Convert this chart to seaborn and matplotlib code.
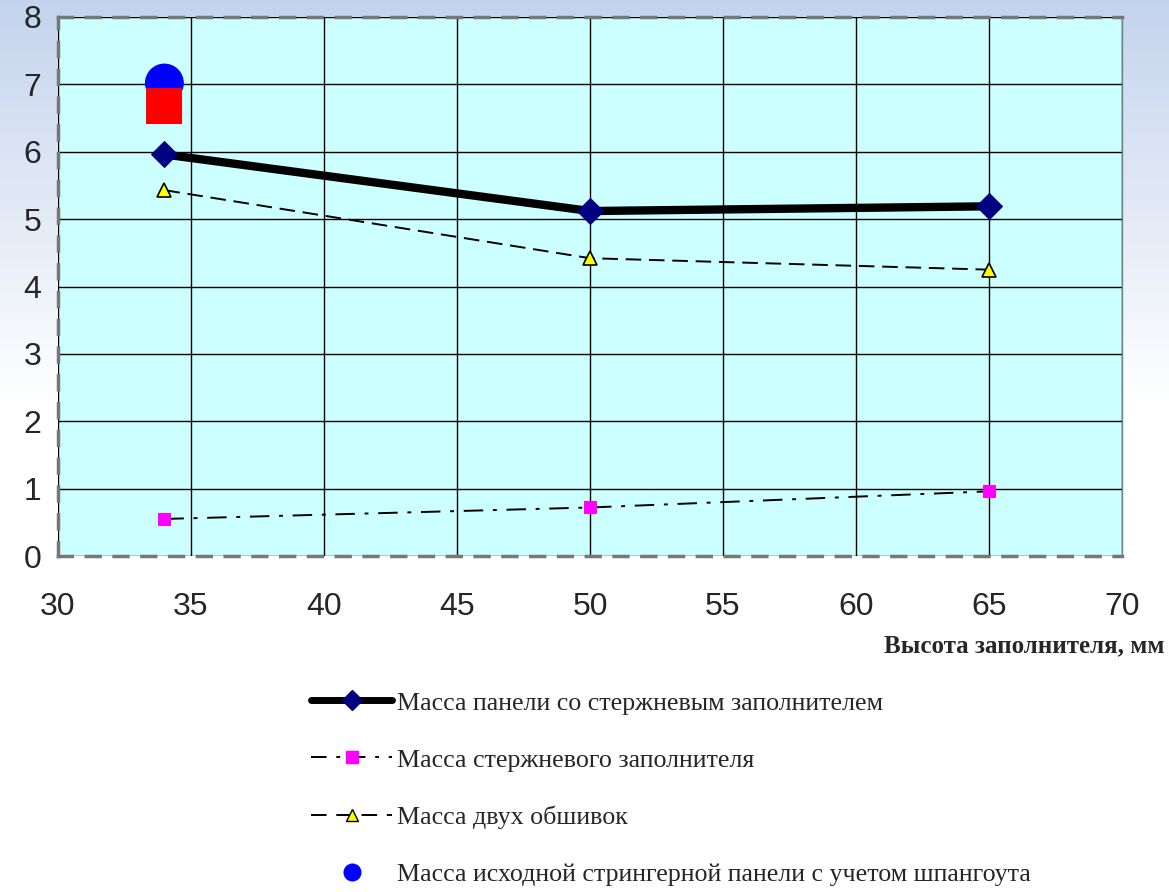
import matplotlib
matplotlib.use("Agg")
import matplotlib.pyplot as plt
import seaborn as sns
import numpy as np
import pandas as pd
from matplotlib.lines import Line2D

# data
heights = [34, 50, 65]
panel_mass = [5.96, 5.12, 5.19]
filler_mass = [0.55, 0.72, 0.96]
skins_mass = [5.43, 4.42, 4.25]
stringer_x = [34]
stringer_mass = [7.02]
extra_x = [34]
extra_mass = [6.68]

labels = ["Масса панели со стержневым заполнителем",
          "Масса стержневого заполнителя",
          "Масса двух обшивок",
          "Масса исходной стрингерной панели с учетом шпангоута"]

df = pd.DataFrame({"h": heights, "panel": panel_mass,
                   "filler": filler_mass, "skins": skins_mass})

sns.set_style("white")
plt.rcParams['font.family'] = ['Liberation Sans', 'DejaVu Sans']

fig = plt.figure(figsize=(11.69, 8.92), dpi=100)

# light sky-like backdrop of the slide
bg = fig.add_axes([0, 0, 1, 1], zorder=-10)
fade = np.clip(np.linspace(0, 1, 200) / 0.45, 0, 1)[:, None]
top = np.array([0.77, 0.83, 0.93])
img = top[None, None, :] * (1 - fade[..., None]) + fade[..., None]
bg.imshow(np.repeat(img, 2, axis=1), aspect="auto", extent=[0, 1, 0, 1])
bg.axis("off")

ax = fig.add_axes([58/1169, 1-556/892, (1122-58)/1169, (556-17)/892])
ax.set_facecolor("#CCFFFF")

sns.lineplot(data=df, x="h", y="panel", ax=ax, color="black", lw=6,
             marker="D", markersize=13, markerfacecolor="#000080",
             markeredgecolor="#000080", zorder=4)
sns.lineplot(data=df, x="h", y="filler", ax=ax, color="black", lw=1.4,
             marker="s", markersize=9, markerfacecolor="#FF00FF",
             markeredgecolor="#FF00FF", zorder=4)
ax.lines[-1].set_dashes([10, 5, 2, 5])
sns.lineplot(data=df, x="h", y="skins", ax=ax, color="black", lw=1.4,
             marker="^", markersize=10, markerfacecolor="#FFFF00",
             markeredgecolor="black", markeredgewidth=1.2, zorder=4)
ax.lines[-1].set_dashes([8, 4])
sns.scatterplot(x=stringer_x, y=stringer_mass, ax=ax, s=28**2, color="#0000FF",
                edgecolor="none", zorder=5)
sns.scatterplot(x=extra_x, y=extra_mass, ax=ax, s=26**2, color="#FF0000",
                marker="s", edgecolor="none", zorder=6)

ax.set_xlim(30, 70)
ax.set_ylim(0, 8)
ax.set_xticks(range(30, 71, 5))
ax.set_yticks(range(0, 9))
ax.grid(True, color="black", lw=1)
ax.set_axisbelow(True)
ax.tick_params(axis="both", labelsize=23, length=8, width=1, color="#555555",
               direction="out")
ax.tick_params(axis="x", pad=18)
ax.tick_params(axis="y", pad=4)
ax.set_xlabel("")
ax.set_ylabel("")
for side in ["left", "bottom", "top"]:
    ax.spines[side].set_linestyle((0, (4, 4)))
    ax.spines[side].set_color("#777777")
    ax.spines[side].set_linewidth(2.5)
ax.spines["right"].set_color("#668888")
ax.spines["right"].set_linewidth(1)

fig.text(1165/1169, 1-646/892, "Высота заполнителя, мм", ha="right", va="center",
         fontsize=18, fontweight="bold", family=["Liberation Serif", "DejaVu Serif"])

handles = [
    Line2D([], [], color="black", lw=5, marker="D", markersize=10,
           markerfacecolor="#000080", markeredgecolor="#000080"),
    Line2D([], [], color="black", lw=1.4, dashes=[8, 5, 2, 5], marker="s",
           markersize=8, markerfacecolor="#FF00FF", markeredgecolor="#FF00FF"),
    Line2D([], [], color="black", lw=1.4, dashes=[8, 5], marker="^",
           markersize=9, markerfacecolor="#FFFF00", markeredgecolor="black"),
    Line2D([], [], color="none", marker="o", markersize=12,
           markerfacecolor="#0000FF", markeredgecolor="#0000FF"),
]
fig.legend(handles, labels, loc="upper left", bbox_to_anchor=(288/1169, 1-668/892),
           frameon=False, handlelength=3.1, handletextpad=0.2, labelspacing=1.3,
           prop={"family": ["Liberation Serif", "DejaVu Serif"], "size": 18.7})

fig.savefig("out.png", dpi=100)
